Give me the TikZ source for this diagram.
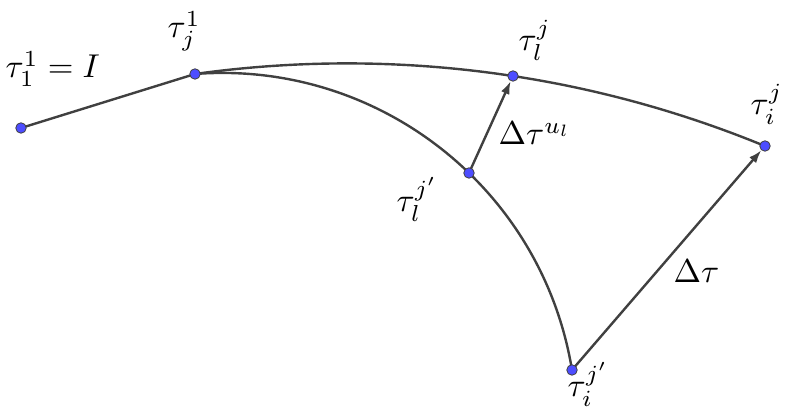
\documentclass[tikz,border=0pt]{standalone}
\usetikzlibrary{arrows.meta}
\pgfdeclarelayer{bg}
\pgfsetlayers{bg,main}
\definecolor{dotblue}{RGB}{77,77,255}
\definecolor{linegray}{RGB}{64,64,64}
\tikzset{
  dot/.style={circle,fill=dotblue,draw=black!75,line width=0.8pt,inner sep=0pt,minimum size=10.5pt},
  curve/.style={draw=linegray,line width=2.4pt},
  vec/.style={draw=linegray,line width=2.4pt,-{Latex[length=13pt,width=9pt]}},
  lbl/.style={anchor=base west,inner sep=0pt,scale=3.3}
}
\begin{document}
\begin{tikzpicture}[x=1pt,y=1pt]
\useasboundingbox (0,0) rectangle (785,414);
\node[dot] (A) at (21,286) {};
\node[dot] (B) at (195,340) {};
\node[dot] (C) at (513,338) {};
\node[dot] (D) at (765,268) {};
\node[dot] (E) at (469,241) {};
\node[dot] (F) at (572,44) {};
\begin{pgfonlayer}{bg}
\draw[curve] (A.center) -- (B.center);
\draw[curve] (B.center) arc[start angle=97.97,end angle=67.63,radius=1097.6pt];
\draw[curve] (B.center) arc[start angle=94.40,end angle=9.33,radius=354.5pt];
\draw[vec] (E.center) -- (C);
\draw[vec] (F.center) -- (D);
\end{pgfonlayer}
\node[lbl] (lA) at (5,336) {$\tau_1^1 = I$};
\node[lbl] (lB) at (167,376) {$\tau_j^1$};
\node[lbl] (lC) at (518,363) {$\tau_l^j$};
\node[lbl] (lD) at (750,299) {$\tau_i^j$};
\node[lbl] (lE) at (396,202) {$\tau_l^{j'}$};
\node[lbl] (lF) at (567,17) {$\tau_i^{j'}$};
\node[lbl] (lEC) at (498,269) {$\Delta\tau^{u_l}$};
\node[lbl] (lFD) at (673,131) {$\Delta\tau$};
\end{tikzpicture}
\end{document}
